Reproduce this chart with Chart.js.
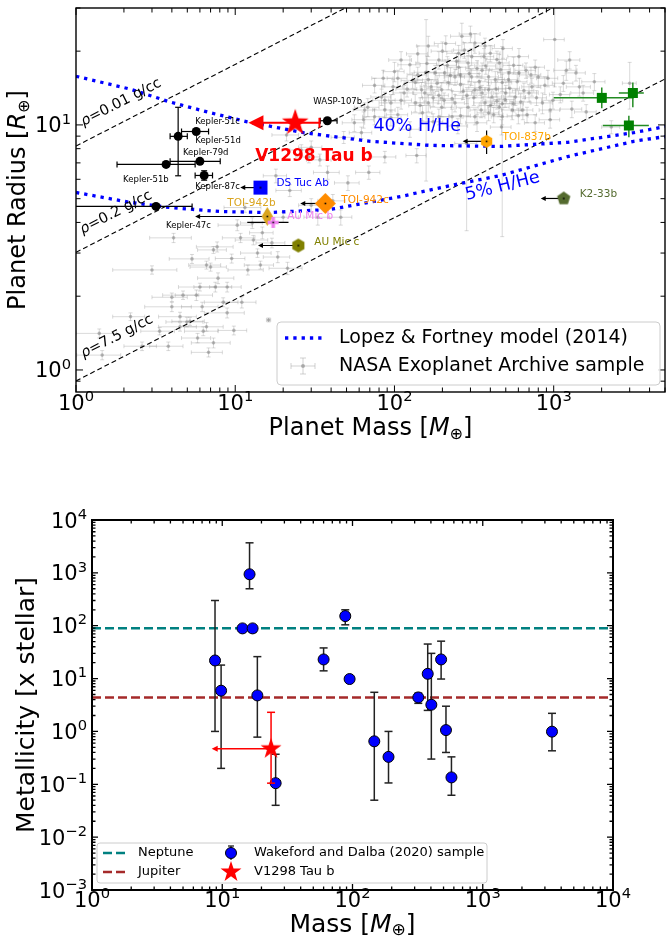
<!DOCTYPE html>
<html>
<head>
<meta charset="utf-8">
<script src="https://cdn.jsdelivr.net/npm/chart.js@4.4.0/dist/chart.umd.min.js"></script>
<style>
  body { margin: 0; background: #fff; }
  .wrap { position: relative; width: 666px; height: 942px; }
  canvas { position: absolute; left: 0; }
  #massRadius { top: 0; }
  #metallicity { top: 450px; }
</style>
</head>
<body>
<div class="wrap">
  <canvas id="massRadius" width="666" height="450"></canvas>
  <canvas id="metallicity" width="666" height="492"></canvas>
</div>
<script>
const FONT = '"DejaVu Sans", sans-serif';

// ---------- top panel: mass / radius ----------
const massTicks = [1, 10, 100, 1000];
const radiusTicks = [1, 10];

// NASA Exoplanet Archive sample (grey)
const nasaMass = [
  4.1, 3.0, 5.35, 6.6, 7.0, 7.8, 7.7, 7.3, 10.8, 13,
  14.8, 13.8, 18.5, 21.3, 12, 14.4, 10.3, 12.8, 8.9, 7.5,
  6.0, 5.7, 4.0, 4.7, 4.0, 6.2, 8.9, 4.5, 4.97, 6.6,
  4.5, 7.3, 16.2, 8.4, 11, 1.4, 1.46, 3.35, 6.3, 5.2,
  5.8, 2.6, 9.5, 17, 20, 11.5, 2.2, 3.8, 6.8, 9.8,
  30, 38, 51, 69, 138, 87, 29, 48, 62, 41,
  33, 46, 21, 26, 34, 22, 18, 30, 163, 265,
  190, 125, 100, 98, 87, 68, 65, 56, 135, 148,
  170, 198, 218, 240, 253, 290, 305, 320, 355, 390,
  430, 475, 500, 575, 605, 730, 800, 850, 950, 1200,
  1450, 640, 550, 455, 370, 290, 240, 198, 163, 135,
  110, 95, 83, 180, 207, 253, 275, 305, 163, 155,
  605, 670, 765, 990, 950, 765, 475, 390, 320, 230,
  190, 525, 390, 455, 355, 110, 87, 95, 75, 64,
  400, 320, 1260, 1380, 1530, 1600, 1800, 120, 140, 175,
  215, 260, 285, 340, 410, 440, 520, 560, 620, 700,
  880, 230, 150, 105, 365, 480, 330, 200, 260, 420,
  600, 1100, 1300, 75, 125, 3000, 2300, 158, 284, 475,
  1015, 115, 130, 145, 160, 185, 205, 225, 245, 270,
  295, 315, 345, 375, 400, 435, 465, 495, 530, 590,
  650, 720, 780, 920, 1150, 85, 105, 175, 250, 330,
  470, 560, 680, 210, 370, 140, 300, 440, 260, 190,
  350
];
const nasaRadius = [
  3.46, 2.56, 2.84, 2.68, 2.63, 2.37, 3.18, 3.09, 3.46, 3.39,
  3.63, 3.0, 2.89, 2.6, 2.56, 2.68, 3.9, 3.98, 2.18, 2.18,
  2.18, 2.02, 1.98, 2.02, 1.81, 1.81, 1.71, 1.65, 1.57, 1.5,
  1.5, 1.29, 1.6, 1.89, 1.89, 1.41, 1.15, 1.44, 1.44, 1.58,
  1.35, 1.25, 2.85, 3.3, 4.2, 4.6, 1.65, 1.25, 1.18, 1.45,
  8.1, 6.4, 5.8, 6.4, 7.5, 7.4, 7.4, 8.9, 9.3, 4.9,
  4.2, 4.2, 9.1, 7.9, 7.2, 5.4, 6.2, 4.7, 21, 23,
  18.4, 17.6, 16.5, 14.3, 12.6, 11.8, 11.5, 10.2, 14.9, 13.9,
  14.3, 13.9, 14.9, 15.7, 17.2, 17.9, 15.7, 13.9, 13.5, 15.7,
  15.3, 14.9, 13.5, 13.0, 19, 14.3, 15.7, 12.3, 11.5, 16.7,
  14.3, 11.5, 11.5, 11.8, 12.3, 11.8, 12.3, 11.8, 12.3, 12.3,
  12.6, 12.3, 13, 16.3, 16.3, 19.6, 20.2, 19, 15.3, 13.5,
  16.3, 16.7, 17.2, 12.6, 10.5, 10.2, 10.8, 11.2, 10.8, 10.8,
  10.8, 16.3, 13.9, 17.9, 16.7, 18.4, 11.5, 10.7, 10.8, 10.5,
  19.6, 21.6, 18.4, 16.3, 13.5, 11.3, 15, 14.0, 16.0, 12.9,
  17.5, 14.6, 13.2, 15.0, 13.0, 18.5, 15.3, 17.5, 12.4, 13.5,
  14.5, 12.8, 11.2, 15.5, 19.0, 20.5, 17.0, 20.0, 10.9, 11.0,
  10.9, 13.3, 11.6, 14.5, 9.6, 14.8, 9.8, 16.4, 8.4, 12.2,
  22.3, 13.5, 15.2, 12.0, 17.8, 14.8, 12.6, 15.9, 18.2, 13.7,
  16.2, 12.9, 14.2, 17.4, 12.0, 14.0, 16.8, 12.7, 14.1, 15.0,
  13.8, 16.0, 12.9, 15.5, 14.8, 15.5, 11.0, 10.3, 9.9, 10.2,
  9.8, 12.2, 11.0, 21.5, 21.0, 19.5, 23.5, 12.5, 16.0, 13.2,
  11.5
];
const nasaMassErr = [
  1.2, 1.3, 1.5, 1.5, 1.8, 2.0, 2.0, 1.5, 2.5, 3,
  2.5, 3, 3.5, 5, 3, 3, 2.5, 2.0, 2.0, 2.0,
  1.6, 1.5, 1.0, 1.2, 1.3, 1.6, 2.5, 1.2, 1.3, 1.8,
  1.2, 2.0, 0.5, 2.0, 2.5, 0.4, 0.45, 0.8, 1.5, 1.2,
  1.2, 0.6, 2.0, 3.5, 5, 3, 0.5, 0.9, 1.5, 2.0,
  5, 7, 9, 12, 20, 15, 5, 8, 10, 8,
  6, 8, 4, 4, 6, 4, 3, 5, 25, 40,
  30, 20, 15, 15, 14, 12, 10, 9, 20, 25,
  25, 30, 30, 35, 40, 45, 45, 50, 50, 60,
  60, 70, 80, 90, 90, 100, 120, 130, 140, 200,
  250, 100, 80, 70, 55, 45, 35, 30, 25, 20,
  18, 15, 12, 25, 30, 40, 40, 45, 25, 25,
  90, 100, 110, 150, 140, 110, 70, 60, 50, 35,
  30, 80, 60, 70, 55, 18, 14, 15, 12, 10,
  60, 50, 200, 200, 250, 250, 300, 18, 20, 25,
  30, 40, 45, 50, 60, 65, 75, 80, 90, 100,
  130, 35, 22, 15, 55, 70, 50, 30, 40, 60,
  90, 160, 200, 12, 18, 300, 300, 25, 45, 70,
  150, 17, 20, 22, 24, 28, 30, 34, 37, 40,
  45, 47, 52, 56, 60, 65, 70, 75, 80, 90,
  100, 110, 120, 140, 170, 13, 16, 26, 38, 50,
  70, 85, 100, 32, 55, 21, 45, 65, 39, 28,
  52
];
const nasaRadiusErr = [
  0.15, 0.1, 0.12, 0.1, 0.1, 0.12, 0.15, 0.1, 0.15, 0.15,
  0.2, 0.12, 0.15, 0.15, 0.12, 0.1, 0.2, 0.2, 0.1, 0.1,
  0.08, 0.1, 0.08, 0.08, 0.08, 0.08, 0.08, 0.07, 0.07, 0.06,
  0.06, 0.06, 0.03, 0.08, 0.1, 0.06, 0.05, 0.05, 0.06, 0.06,
  0.06, 0.05, 0.12, 0.15, 0.2, 0.2, 0.06, 0.05, 0.05, 0.06,
  0.5, 0.4, 0.4, 0.4, 0.5, 0.4, 0.4, 0.5, 0.5, 0.3,
  0.3, 0.3, 0.5, 0.4, 0.4, 0.3, 0.4, 0.3, 2, 3,
  1.5, 1.5, 1.5, 1, 1, 1, 0.8, 0.8, 1, 1,
  1, 1, 1, 1.2, 1.2, 1.3, 1.2, 1, 1, 1.2,
  1.2, 1.2, 1, 1, 1.5, 1.2, 1.5, 1.2, 1, 1.5,
  1.2, 1, 1, 1, 1, 1, 1, 1, 1, 1,
  1, 1, 1, 1.2, 1.2, 1.5, 1.5, 1.5, 1.2, 1,
  1.2, 1.2, 1.2, 1, 0.8, 0.8, 0.8, 0.8, 0.8, 0.8,
  0.8, 1.2, 1, 1.5, 1.2, 1.5, 0.8, 0.8, 0.8, 0.8,
  1.5, 2, 1.5, 1.2, 1, 0.8, 1.2, 1, 1.2, 1,
  1.5, 1.1, 1, 1.2, 1, 1.5, 1.2, 1.4, 1, 1.1,
  1.2, 1, 0.8, 1.2, 1.5, 1.8, 1.3, 1.8, 0.8, 0.8,
  0.8, 1, 0.9, 1, 0.7, 3.2, 0.6, 10.5, 4.7, 8.7,
  8, 1, 1.1, 0.9, 1.3, 1.1, 0.9, 1.2, 1.4, 1,
  1.2, 0.9, 1, 1.3, 0.9, 1, 1.2, 0.9, 1, 1.1,
  1, 1.2, 0.9, 1.2, 1.1, 1.2, 0.8, 0.8, 0.7, 0.8,
  0.7, 0.9, 0.8, 1.6, 1.6, 1.5, 1.8, 0.9, 1.2, 1,
  0.8
];

// Lopez & Fortney (2014) tracks
const lf40Mass = [1, 2.19, 3.9, 7.0, 11.9, 26.8, 70.6, 168, 464, 1225, 3185, 5060];
const lf40Radius = [15.8, 14.0, 12.4, 11.2, 10.3, 9.3, 8.57, 8.25, 8.17, 8.49, 9.3, 9.86];
const lf5Mass = [1, 2.19, 3.9, 8.05, 16.6, 39.6, 109, 225, 464, 1225, 3185, 5060];
const lf5Radius = [5.3, 4.83, 4.6, 4.43, 4.39, 4.52, 5.1, 5.66, 6.22, 7.43, 8.57, 8.97];

// constant density lines
const densityMass = [1, 5000];
const densityRho = ['0.01', '0.2', '7.5'];
const densityRadius = [[8.2, 140], [3.02, 51.6], [0.902, 15.4]];
const densityLabelAt = [[1.92, 12.35], [1.785, 4.39], [1.81, 1.37]];

// comparison planets (black)
const refNames = ['Kepler-51b', 'Kepler-51c', 'Kepler-51d', 'Kepler-79d', 'Kepler-87c', 'WASP-107b', 'Kepler-47c'];
const refMass = [3.68, 4.38, 5.69, 6.0, 6.38, 37.9, 3.18];
const refRadius = [6.9, 8.98, 9.4, 7.1, 6.22, 10.4, 4.65];
const refMassRange = [[1.81, 5.6], [3.9, 5.0], [4.6, 6.8], [3.9, 8.05], [5.6, 7.2], [34.2, 43.6], [0.5, 5.36]];
const refRadiusRange = [null, [6.2, 11.8], null, null, [5.95, 6.5], null, null];

// young planets
const youngNames = ['V1298 Tau b', 'DS Tuc Ab', 'TOI-942b', 'AU Mic b', 'TOI-942c', 'AU Mic c', 'TOI-837b', 'K2-33b'];
const youngMass = [23.8, 14.4, 15.9, 17.3, 36.8, 24.9, 379, 1156];
const youngRadius = [10.2, 5.55, 4.23, 4.0, 4.78, 3.22, 8.57, 5.01];
const youngMassLimit = [12.1, 10.75, 5.6, null, 25.6, 13.9, 268, 829];
const youngMassUpper = [33.8, null, null, null, null, null, null, null];
const youngMassRange = [null, null, null, [11.9, 21.6], null, null, null, null];
const youngRadiusRange = [null, null, null, null, null, null, [7.6, 9.5], null];

// green squares
const bdMass = [2004, 3140, 2965];
const bdRadius = [12.9, 13.5, 9.95];
const bdMassRange = [[1000, 3185], [2565, 3680], [2033, 3960]];
const bdRadiusRange = [[11.7, 14.2], [11.8, 14.9], [8.9, 10.9]];

// ---------- bottom panel: metallicity ----------
const metalMassTicks = [1, 10, 100, 1000, 10000];
const metalTicks = [0.001, 0.01, 0.1, 1, 10, 100, 1000, 10000];
const wdMass = [8.8, 9.8, 14.3, 16.2, 17.1, 18.6, 25.7, 60, 88, 95, 147, 189, 320, 378, 403, 479, 522, 575, 3400];
const wdMetal = [22, 5.9, 89, 940, 89, 4.8, 0.105, 23, 152, 9.8, 0.65, 0.33, 4.4, 12.3, 3.2, 23, 1.06, 0.135, 0.99];
const wdMetalLo = [1.0, 0.2, 84, 500, 75, 0.78, 0.04, 14, 104, 9.3, 0.05, 0.106, 3.4, 2.5, 0.30, 9.8, 0.40, 0.062, 0.43];
const wdMetalHi = [300, 18, 94, 3700, 94, 26, 0.37, 38, 200, 10.3, 5.5, 1.0, 5.3, 45, 30, 51, 3.0, 0.33, 2.2];
const v1298Mass = 23.7;
const v1298MassLimit = 8.3;
const v1298Metal = 0.47;
const v1298MetalRange = [0.105, 2.3];
const neptuneMetal = 90;
const jupiterMetal = 4.4;

// ---------- helpers ----------
const pts = (xs, ys) => xs.map((v, i) => ({ x: v, y: ys[i] }));

function makeMarker(shape, size, fill, dot) {
  const c = document.createElement('canvas');
  c.width = c.height = Math.ceil(size + 6);
  const g = c.getContext('2d');
  const cx = c.width / 2, cy = c.height / 2, r = size / 2;
  const poly = (n, rr) => {
    for (let i = 0; i < n; i++) {
      const t = -Math.PI / 2 + i * 2 * Math.PI / n;
      g.lineTo(cx + rr * Math.cos(t), cy + rr * Math.sin(t));
    }
  };
  g.beginPath();
  if (shape === 'star') {
    for (let i = 0; i < 10; i++) {
      const t = -Math.PI / 2 + i * Math.PI / 5, rr = i % 2 ? r * 0.39 : r;
      g.lineTo(cx + rr * Math.cos(t), cy + rr * Math.sin(t));
    }
  } else if (shape === 'hex') poly(6, r);
  else if (shape === 'pent') poly(5, r);
  else if (shape === 'diamond') poly(4, r);
  else if (shape === 'thin') {
    g.moveTo(cx, cy - r); g.lineTo(cx + r * 0.6, cy); g.lineTo(cx, cy + r); g.lineTo(cx - r * 0.6, cy);
  } else if (shape === 'square') g.rect(cx - r, cy - r, size, size);
  else if (shape === 'plus') {
    const w = size / 3;
    g.rect(cx - w / 2, cy - r, w, size);
    g.rect(cx - r, cy - w / 2, size, w);
  }
  g.closePath();
  g.fillStyle = fill;
  g.fill();
  if (dot) {
    g.fillStyle = '#000';
    g.fillRect(cx - 0.8, cy - 0.8, 1.6, 1.6);
  }
  return c;
}

function seg(ctx, x1, y1, x2, y2) {
  ctx.beginPath(); ctx.moveTo(x1, y1); ctx.lineTo(x2, y2); ctx.stroke();
}

function arrowLeft(ctx, x, y, s) {
  ctx.beginPath();
  ctx.moveTo(x, y); ctx.lineTo(x + s, y - s / 2); ctx.lineTo(x + s, y + s / 2);
  ctx.closePath(); ctx.fill();
}

// error bars / upper-limit arrows, drawn just before each dataset's points
const errorBars = {
  id: 'errorBars',
  beforeDatasetDraw(chart, args) {
    const ds = chart.data.datasets[args.index];
    if (!ds.errs) return;
    const { ctx, chartArea: a, scales: { x, y } } = chart;
    ctx.save();
    ctx.beginPath(); ctx.rect(a.left, a.top, a.right - a.left, a.bottom - a.top); ctx.clip();
    ds.data.forEach((p, i) => {
      const e = ds.errs[i];
      if (!e) return;
      const px = x.getPixelForValue(p.x), py = y.getPixelForValue(p.y);
      ctx.strokeStyle = ctx.fillStyle = e.color || ds.errColor;
      ctx.lineWidth = e.width || ds.errWidth || 1;
      const capX = e.capX ?? ds.errCap ?? 0, capY = e.capY ?? ds.errCap ?? 0;
      if (e.x) {
        const l = x.getPixelForValue(e.x[0]), r = x.getPixelForValue(e.x[1]);
        seg(ctx, e.arrow ? l + (e.head || 5) * 0.5 : l, py, r, py);
        if (e.arrow) arrowLeft(ctx, l, py, e.head || 5);
        else if (capX) seg(ctx, l, py - capX, l, py + capX);
        if (capX) seg(ctx, r, py - capX, r, py + capX);
      }
      if (e.y) {
        const t = y.getPixelForValue(e.y[1]), b = y.getPixelForValue(e.y[0]);
        seg(ctx, px, t, px, b);
        if (capY) { seg(ctx, px - capY, t, px + capY, t); seg(ctx, px - capY, b, px + capY, b); }
      }
    });
    ctx.restore();
  }
};

function logTicks(min, max) {
  const out = [];
  for (let d = Math.floor(Math.log10(min)); d <= Math.ceil(Math.log10(max)); d++) {
    for (let k = 1; k <= 9; k++) {
      const v = Number((k * Math.pow(10, d)).toPrecision(6));
      if (v >= min * 0.9999 && v <= max * 1.0001) out.push([v, k === 1]);
    }
  }
  return out;
}

function drawFrame(chart, o) {
  const { ctx, chartArea: a, scales: { x, y } } = chart;
  ctx.save();
  ctx.strokeStyle = '#000';
  ctx.lineWidth = o.tickWidth;
  ctx.beginPath();
  logTicks(x.min, x.max).forEach(([v, major]) => {
    const p = x.getPixelForValue(v), len = major ? o.major : o.minor;
    ctx.moveTo(p, a.bottom); ctx.lineTo(p, a.bottom - len);
    ctx.moveTo(p, a.top); ctx.lineTo(p, a.top + len);
  });
  logTicks(y.min, y.max).forEach(([v, major]) => {
    const p = y.getPixelForValue(v), len = major ? o.major : o.minor;
    ctx.moveTo(a.left, p); ctx.lineTo(a.left + len, p);
    ctx.moveTo(a.right, p); ctx.lineTo(a.right - len, p);
  });
  ctx.stroke();
  ctx.lineWidth = o.lw;
  ctx.strokeRect(a.left, a.top, a.right - a.left, a.bottom - a.top);
  ctx.restore();
}

// "10" with a raised exponent, y is the baseline
function drawPow(ctx, value, x, y, size, align) {
  const exp = Math.round(Math.log10(value));
  const sup = exp < 0 ? '\u2212' + (-exp) : String(exp);
  const ss = size * 0.7;
  ctx.save();
  ctx.fillStyle = '#000';
  ctx.textAlign = 'left';
  ctx.textBaseline = 'alphabetic';
  ctx.font = `${size}px ${FONT}`;
  const wb = ctx.measureText('10').width;
  ctx.font = `${ss}px ${FONT}`;
  const ws = ctx.measureText(sup).width;
  const w = wb + ws;
  const x0 = align === 'right' ? x - w : align === 'center' ? x - w / 2 : x;
  ctx.font = `${size}px ${FONT}`;
  ctx.fillText('10', x0, y);
  ctx.font = `${ss}px ${FONT}`;
  ctx.fillText(sup, x0 + wb, y - size * 0.42);
  ctx.restore();
}

// mixed-style text: parts = [text, size, style, dy]
function drawRich(ctx, parts, x, y, rot, color, align) {
  ctx.save();
  ctx.translate(x, y);
  ctx.rotate(rot || 0);
  ctx.fillStyle = color || '#000';
  ctx.textBaseline = 'middle';
  ctx.textAlign = 'left';
  let w = 0;
  const widths = parts.map(p => {
    ctx.font = `${p[2]} ${p[1]}px ${FONT}`;
    const m = ctx.measureText(p[0]).width;
    w += m;
    return m;
  });
  let cx = align === 'left' ? 0 : -w / 2;
  parts.forEach((p, i) => {
    ctx.font = `${p[2]} ${p[1]}px ${FONT}`;
    ctx.fillText(p[0], cx, p[3]);
    cx += widths[i];
  });
  ctx.restore();
}

function label(ctx, s, x, y, font, color) {
  ctx.save();
  ctx.font = font; ctx.fillStyle = color;
  ctx.textAlign = 'left'; ctx.textBaseline = 'middle';
  ctx.fillText(s, x, y);
  ctx.restore();
}

function roundBox(ctx, x, y, w, h, r) {
  ctx.beginPath();
  ctx.moveTo(x + r, y); ctx.lineTo(x + w - r, y); ctx.quadraticCurveTo(x + w, y, x + w, y + r);
  ctx.lineTo(x + w, y + h - r); ctx.quadraticCurveTo(x + w, y + h, x + w - r, y + h);
  ctx.lineTo(x + r, y + h); ctx.quadraticCurveTo(x, y + h, x, y + h - r);
  ctx.lineTo(x, y + r); ctx.quadraticCurveTo(x, y, x + r, y);
  ctx.closePath();
  ctx.fillStyle = 'rgba(255,255,255,0.85)'; ctx.fill();
  ctx.strokeStyle = '#cccccc'; ctx.lineWidth = 1; ctx.stroke();
}

// ---------- markers & styles ----------
const youngStyle = {
  'V1298 Tau b': { shape: 'star', size: 28, color: '#ff0000', font: `bold 17px ${FONT}`, off: [-40, 34] },
  'DS Tuc Ab': { shape: 'square', size: 14, color: '#0000ff', font: `10.5px ${FONT}`, off: [16, -4] },
  'TOI-942b': { shape: 'thin', size: 19, color: '#daa520', font: `10.5px ${FONT}`, off: [-40, -13] },
  'AU Mic b': { shape: 'plus', size: 11, color: '#ee82ee', font: `10.5px ${FONT}`, off: [14, -6] },
  'TOI-942c': { shape: 'diamond', size: 21, color: '#ff8c00', font: `10.5px ${FONT}`, off: [16, -3] },
  'AU Mic c': { shape: 'hex', size: 14, color: '#808000', font: `10.5px ${FONT}`, off: [16, -3] },
  'TOI-837b': { shape: 'hex', size: 13, color: '#ffa500', font: `10.5px ${FONT}`, off: [16, -4] },
  'K2-33b': { shape: 'pent', size: 14, color: '#556b2f', font: `10.5px ${FONT}`, off: [16, -4] }
};
const refOffsets = {
  'Kepler-51b': [-43, 15], 'Kepler-51c': [17, -15], 'Kepler-51d': [-1, 9], 'Kepler-79d': [-17, -9],
  'Kepler-87c': [-9, 11], 'WASP-107b': [-14, -19], 'Kepler-47c': [10, 19]
};
const youngMarkers = youngNames.map(n => {
  const s = youngStyle[n];
  return makeMarker(s.shape, s.size, s.color, s.shape !== 'star');
});
const bdMarker = makeMarker('square', 10, '#008000', false);
const bigStar = makeMarker('star', 22, '#ff0000', false);

const youngErrs = youngNames.map((n, i) => {
  const red = i === 0;
  const e = { color: red ? '#ff0000' : '#000', width: red ? 2 : 1.2, head: red ? 15 : 5, capX: red ? 5 : 0, capY: 0 };
  if (youngMassLimit[i] != null) { e.x = [youngMassLimit[i], youngMassUpper[i] || youngMass[i]]; e.arrow = true; }
  if (youngMassRange[i]) e.x = youngMassRange[i];
  if (youngRadiusRange[i]) e.y = youngRadiusRange[i];
  return e;
});

const fixedAxis = (size, vertical) => ({
  type: 'logarithmic',
  grid: { display: false, drawTicks: false },
  border: { display: false },
  ticks: { display: false },
  afterFit: s => { if (vertical) s.width = size; else s.height = size; }
});

// ---------- top chart ----------
const topDecor = {
  id: 'topDecor',
  afterDraw(chart) {
    const { ctx, chartArea: a, scales: { x, y } } = chart;
    drawFrame(chart, { lw: 1.4, tickWidth: 1, major: 7, minor: 4.5 });
    massTicks.forEach(v => drawPow(ctx, v, x.getPixelForValue(v), a.bottom + 18, 21, 'center'));
    radiusTicks.forEach(v => drawPow(ctx, v, a.left - 5, y.getPixelForValue(v) + 7.5, 21, 'right'));
    drawRich(ctx, [['Planet Mass [', 24, 'normal', 0], ['M', 24, 'italic', 0], ['\u2295', 16, 'normal', 6], [']', 24, 'normal', 0]],
      (a.left + a.right) / 2, a.bottom + 37, 0);
    drawRich(ctx, [['Planet Radius [', 24, 'normal', 0], ['R', 24, 'italic', 0], ['\u2295', 16, 'normal', 6], [']', 24, 'normal', 0]],
      19, (a.top + a.bottom) / 2, -Math.PI / 2);

    // density labels along the lines
    const ang = Math.atan2(y.getPixelForValue(densityRadius[0][1]) - y.getPixelForValue(densityRadius[0][0]),
      x.getPixelForValue(densityMass[1]) - x.getPixelForValue(densityMass[0]));
    densityRho.forEach((rho, i) => {
      const p = densityLabelAt[i];
      drawRich(ctx, [['\u03c1', 14.5, 'italic', 0], ['=' + rho + ' g/cc', 14.5, 'normal', 0]],
        x.getPixelForValue(p[0]), y.getPixelForValue(p[1]), ang);
    });
    label(ctx, '40% H/He', x.getPixelForValue(73.8), y.getPixelForValue(9.86), `17.5px ${FONT}`, '#0000ff');
    drawRich(ctx, [['5% H/He', 17.5, 'normal', 0]], x.getPixelForValue(478), y.getPixelForValue(5.61), -14 * Math.PI / 180, '#0000ff');

    refNames.forEach((n, i) => {
      const o = refOffsets[n];
      label(ctx, n, x.getPixelForValue(refMass[i]) + o[0], y.getPixelForValue(refRadius[i]) + o[1], `8.5px ${FONT}`, '#000');
    });
    youngNames.forEach((n, i) => {
      const s = youngStyle[n];
      label(ctx, n, x.getPixelForValue(youngMass[i]) + s.off[0], y.getPixelForValue(youngRadius[i]) + s.off[1], s.font, s.color);
    });

    // legend
    const w = 383, h = 63, x0 = a.right - 5 - w, y0 = a.bottom - 7 - h;
    roundBox(ctx, x0, y0, w, h, 4);
    ctx.save();
    ctx.strokeStyle = '#0000ff'; ctx.lineWidth = 3.3; ctx.setLineDash([3.3, 5]);
    seg(ctx, x0 + 8, y0 + 16, x0 + 46, y0 + 16);
    ctx.setLineDash([]);
    ctx.strokeStyle = 'rgba(150,150,150,0.45)'; ctx.lineWidth = 1;
    seg(ctx, x0 + 14, y0 + 44, x0 + 38, y0 + 44);
    seg(ctx, x0 + 26, y0 + 36, x0 + 26, y0 + 52);
    seg(ctx, x0 + 14, y0 + 41, x0 + 14, y0 + 47); seg(ctx, x0 + 38, y0 + 41, x0 + 38, y0 + 47);
    seg(ctx, x0 + 23, y0 + 36, x0 + 29, y0 + 36); seg(ctx, x0 + 23, y0 + 52, x0 + 29, y0 + 52);
    ctx.fillStyle = 'rgba(120,120,120,0.5)';
    ctx.beginPath(); ctx.arc(x0 + 26, y0 + 44, 2, 0, 2 * Math.PI); ctx.fill();
    ctx.restore();
    label(ctx, 'Lopez & Fortney model (2014)', x0 + 62, y0 + 16, `19px ${FONT}`, '#000');
    label(ctx, 'NASA Exoplanet Archive sample', x0 + 62, y0 + 44, `19px ${FONT}`, '#000');
  }
};

new Chart(document.getElementById('massRadius'), {
  type: 'scatter',
  data: {
    datasets: [
      {
        label: 'young', data: pts(youngMass, youngRadius), pointStyle: youngMarkers, pointRadius: 6,
        errs: youngErrs
      },
      {
        label: 'reference', data: pts(refMass, refRadius), pointStyle: 'circle', pointRadius: 4.5,
        backgroundColor: '#000', borderWidth: 0,
        errs: refNames.map((n, i) => ({ x: refMassRange[i], y: refRadiusRange[i] })),
        errColor: '#000', errWidth: 1.2, errCap: 3
      },
      {
        label: 'green', data: pts(bdMass, bdRadius), pointStyle: bdMarker, pointRadius: 5,
        errs: bdMass.map((m, i) => ({ x: bdMassRange[i], y: bdRadiusRange[i] })),
        errColor: '#228b22', errWidth: 1.5, errCap: 0
      },
      {
        label: '40%', data: pts(lf40Mass, lf40Radius), showLine: true, pointRadius: 0,
        borderColor: '#0000ff', borderWidth: 3.3, borderDash: [3.3, 5], borderCapStyle: 'butt'
      },
      {
        label: '5%', data: pts(lf5Mass, lf5Radius), showLine: true, pointRadius: 0,
        borderColor: '#0000ff', borderWidth: 3.3, borderDash: [3.3, 5], borderCapStyle: 'butt'
      },
      ...densityRadius.map((r, i) => ({
        label: 'rho ' + densityRho[i], data: pts(densityMass, r), showLine: true, pointRadius: 0,
        borderColor: '#000', borderWidth: 1.1, borderDash: [5, 3]
      })),
      {
        label: 'NASA', data: pts(nasaMass, nasaRadius), pointRadius: 1.8,
        backgroundColor: 'rgba(110,110,110,0.45)', borderWidth: 0,
        errs: nasaMass.map((m, i) => ({ x: [m - nasaMassErr[i], m + nasaMassErr[i]], y: [nasaRadius[i] - nasaRadiusErr[i], nasaRadius[i] + nasaRadiusErr[i]] })),
        errColor: 'rgba(140,140,140,0.32)', errWidth: 1, errCap: 2
      }
    ]
  },
  options: {
    responsive: false,
    animation: false,
    events: [],
    layout: { autoPadding: false, padding: { left: 0, top: 8, right: 1, bottom: 0 } },
    plugins: { legend: { display: false }, tooltip: { enabled: false } },
    scales: {
      x: { ...fixedAxis(58, false), min: 1, max: 5000 },
      y: { ...fixedAxis(76, true), min: 0.813, max: 30 }
    }
  },
  plugins: [errorBars, topDecor]
});

// ---------- bottom chart ----------
const bottomDecor = {
  id: 'bottomDecor',
  afterDraw(chart) {
    const { ctx, chartArea: a, scales: { x, y } } = chart;
    drawFrame(chart, { lw: 2, tickWidth: 1.3, major: 6, minor: 3.5 });
    metalMassTicks.forEach(v => drawPow(ctx, v, x.getPixelForValue(v), a.bottom + 17, 21, 'center'));
    metalTicks.forEach(v => drawPow(ctx, v, a.left - 5, y.getPixelForValue(v) + 7.5, 21, 'right'));
    drawRich(ctx, [['Mass [', 25, 'normal', 0], ['M', 25, 'italic', 0], ['\u2295', 17, 'normal', 6], [']', 25, 'normal', 0]],
      (a.left + a.right) / 2, a.bottom + 35, 0);
    drawRich(ctx, [['Metallicity [x stellar]', 25, 'normal', 0]], 27, (a.top + a.bottom) / 2, -Math.PI / 2);

    // legend
    const w = 390, h = 40, x0 = a.left + 5, y0 = a.bottom - 7 - h;
    roundBox(ctx, x0, y0, w, h, 3);
    ctx.save();
    ctx.lineWidth = 2.5; ctx.setLineDash([9, 4]);
    ctx.strokeStyle = '#008080'; seg(ctx, x0 + 6, y0 + 10, x0 + 30, y0 + 10);
    ctx.strokeStyle = '#a52a2a'; seg(ctx, x0 + 6, y0 + 29, x0 + 30, y0 + 29);
    ctx.setLineDash([]);
    ctx.strokeStyle = '#222'; ctx.lineWidth = 1.3;
    seg(ctx, x0 + 134, y0 + 3, x0 + 134, y0 + 17);
    seg(ctx, x0 + 131, y0 + 3, x0 + 137, y0 + 3);
    ctx.fillStyle = '#0000ff'; ctx.strokeStyle = '#000'; ctx.lineWidth = 1;
    ctx.beginPath(); ctx.arc(x0 + 134, y0 + 10, 5.5, 0, 2 * Math.PI); ctx.fill(); ctx.stroke();
    ctx.drawImage(bigStar, x0 + 134 - bigStar.width / 2, y0 + 29 - bigStar.height / 2);
    ctx.restore();
    label(ctx, 'Neptune', x0 + 41, y0 + 10, `13px ${FONT}`, '#000');
    label(ctx, 'Jupiter', x0 + 41, y0 + 29, `13px ${FONT}`, '#000');
    label(ctx, 'Wakeford and Dalba (2020) sample', x0 + 157, y0 + 10, `13px ${FONT}`, '#000');
    label(ctx, 'V1298 Tau b', x0 + 157, y0 + 29, `13px ${FONT}`, '#000');
  }
};

new Chart(document.getElementById('metallicity'), {
  type: 'scatter',
  data: {
    datasets: [
      {
        label: 'V1298 Tau b', data: [{ x: v1298Mass, y: v1298Metal }], pointStyle: bigStar, pointRadius: 6,
        errs: [{ x: [v1298MassLimit, v1298Mass], arrow: true, y: v1298MetalRange, color: '#ff0000', width: 1.5, head: 6, capX: 0, capY: 4 }]
      },
      {
        label: 'Wakeford and Dalba (2020) sample', data: pts(wdMass, wdMetal), pointStyle: 'circle', pointRadius: 5.5,
        backgroundColor: '#0000ff', borderColor: '#000', borderWidth: 1,
        errs: wdMass.map((m, i) => ({ y: [wdMetalLo[i], wdMetalHi[i]] })),
        errColor: '#222', errWidth: 1.5, errCap: 4
      },
      {
        label: 'Neptune', data: pts([1, 10000], [neptuneMetal, neptuneMetal]), showLine: true, pointRadius: 0,
        borderColor: '#008080', borderWidth: 2.5, borderDash: [9, 4]
      },
      {
        label: 'Jupiter', data: pts([1, 10000], [jupiterMetal, jupiterMetal]), showLine: true, pointRadius: 0,
        borderColor: '#a52a2a', borderWidth: 2.5, borderDash: [9, 4]
      }
    ]
  },
  options: {
    responsive: false,
    animation: false,
    events: [],
    layout: { autoPadding: false, padding: { left: 0, top: 70, right: 53, bottom: 0 } },
    plugins: { legend: { display: false }, tooltip: { enabled: false } },
    scales: {
      x: { ...fixedAxis(52, false), min: 1, max: 10000 },
      y: { ...fixedAxis(92, true), min: 0.001, max: 10000 }
    }
  },
  plugins: [errorBars, bottomDecor]
});
</script>
</body>
</html>
